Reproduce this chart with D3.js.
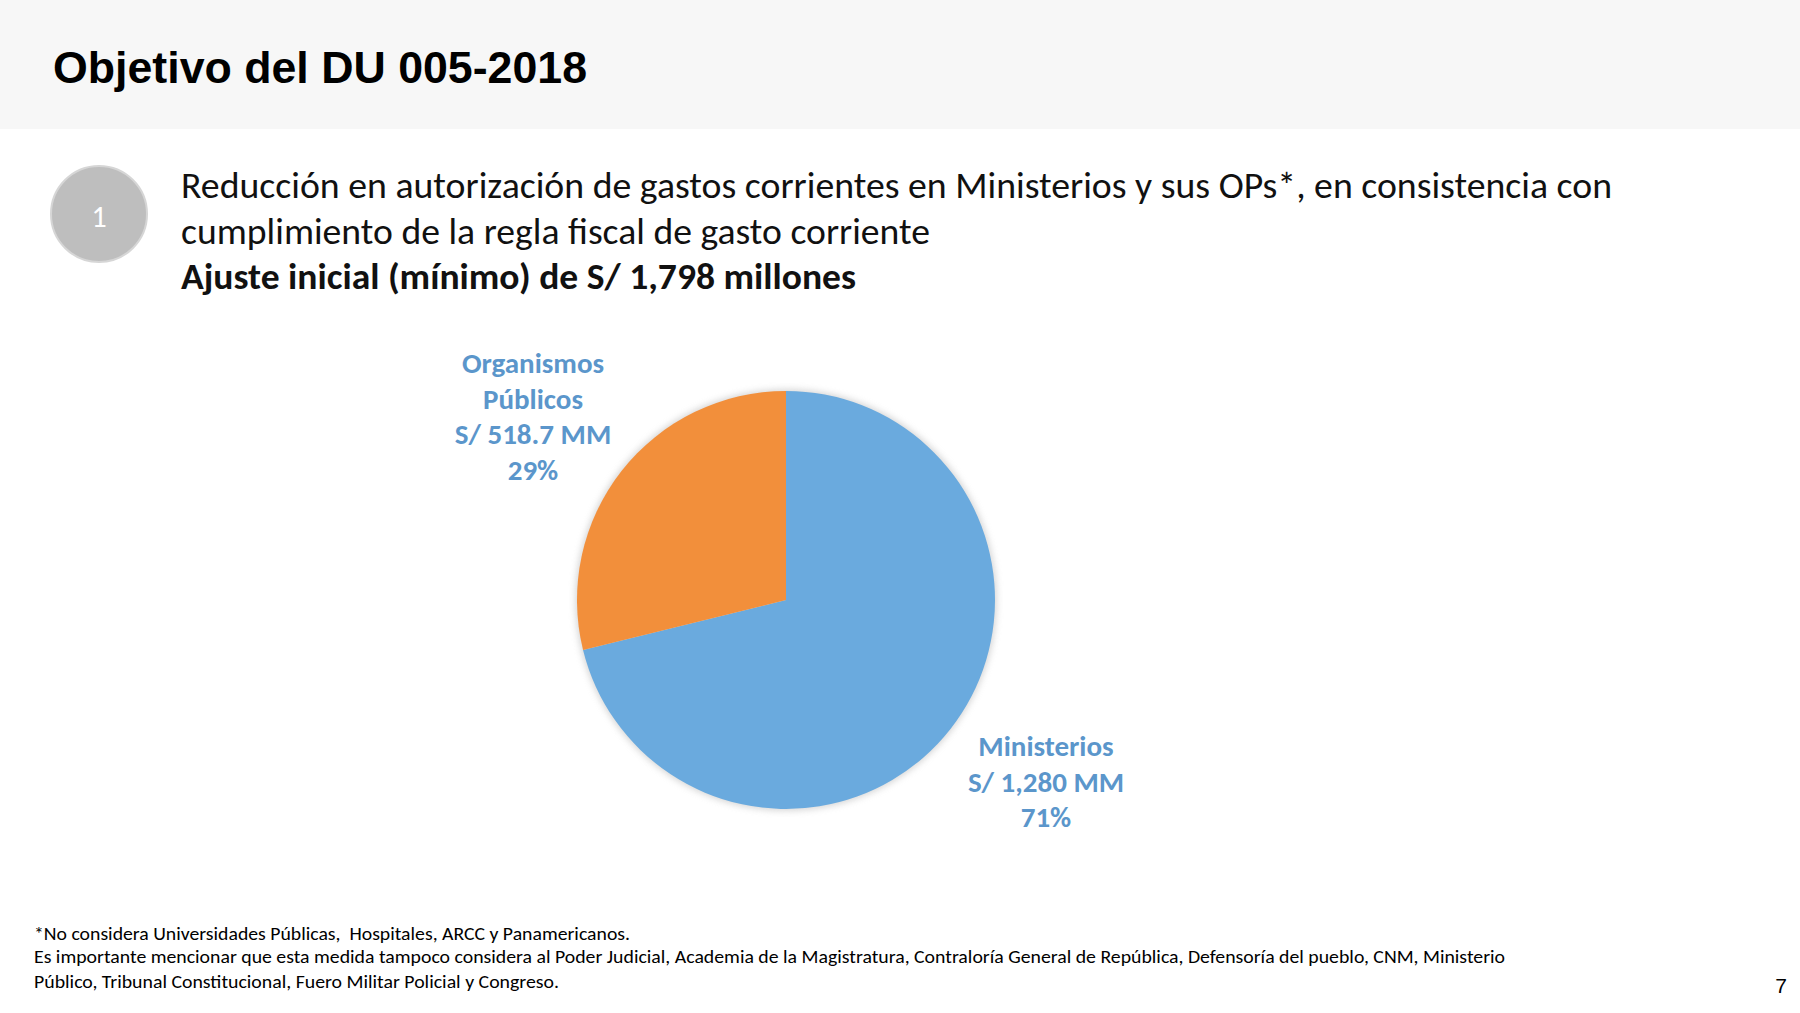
<!DOCTYPE html>
<html>
<head>
<meta charset="utf-8">
<script src="https://cdn.jsdelivr.net/npm/d3@7"></script>
<style>
  html, body { margin: 0; padding: 0; background: #ffffff; }
  svg { display: block; }
  text.pre { white-space: pre; }
</style>
</head>
<body>
<svg id="chart" width="1800" height="1013"></svg>
<script>
// ---- Data ----
const categories = ["Ministerios", "Organismos Públicos"];
const values = [1280, 518.7];
const amountLabels = ["S/ 1,280 MM", "S/ 518.7 MM"];
const pctLabels = ["71%", "29%"];
const nameLines = [["Ministerios"], ["Organismos", "Públicos"]];
const colors = ["#6AAADE", "#F28F3B"];

const titleText = "Objetivo del DU 005-2018";
const bodyLines = [
  "Reducción en autorización de gastos corrientes en Ministerios y sus OPs*, en consistencia con",
  "cumplimiento de la regla fiscal de gasto corriente",
  "Ajuste inicial (mínimo) de S/ 1,798 millones"
];
const footLines = [
  "*No considera Universidades Públicas,  Hospitales, ARCC y Panamericanos.",
  "Es importante mencionar que esta medida tampoco considera al Poder Judicial, Academia de la Magistratura, Contraloría General de República, Defensoría del pueblo, CNM, Ministerio",
  "Público, Tribunal Constitucional, Fuero Militar Policial y Congreso."
];
const pageNumber = "7";

// ---- Layout ----
const svg = d3.select("#chart");
const bodyFont = "Carlito, Calibri, Lato, 'Open Sans', sans-serif";

// header band
svg.append("rect").attr("x", 0).attr("y", 0).attr("width", 1800).attr("height", 129).attr("fill", "#F7F7F7");
svg.append("text")
  .attr("x", 53).attr("y", 83)
  .attr("font-family", "'Liberation Sans', Arial, sans-serif")
  .attr("font-weight", "bold").attr("font-size", 45)
  .attr("fill", "#000")
  .attr("textLength", 534)
  .attr("lengthAdjust", "spacingAndGlyphs")
  .text(titleText);

// badge
svg.append("circle").attr("cx", 99).attr("cy", 214).attr("r", 48)
  .attr("fill", "#BEBEBE").attr("stroke", "#D6D6D6").attr("stroke-width", 2);
svg.append("text").attr("x", 99).attr("y", 227)
  .attr("text-anchor", "middle")
  .attr("font-family", bodyFont).attr("font-size", 30)
  .attr("fill", "#fff").text("1");

// body text
const bodyBase = [198, 244, 289];
const bodyWidths = [1431, 749, 675];
bodyLines.forEach((t, i) => {
  svg.append("text")
    .attr("x", 181).attr("y", bodyBase[i])
    .attr("font-family", bodyFont)
    .attr("font-size", 37)
    .attr("font-weight", i === 2 ? "bold" : "normal")
    .attr("fill", "#111")
    .attr("textLength", bodyWidths[i])
    .attr("lengthAdjust", "spacingAndGlyphs")
    .text(t);
});

// pie
const cx = 786, cy = 600, R = 209;
const defs = svg.append("defs");
const f = defs.append("filter").attr("id", "glow").attr("x", "-20%").attr("y", "-20%").attr("width", "140%").attr("height", "140%");
f.append("feGaussianBlur").attr("stdDeviation", 3);

const pie = d3.pie().sort(null).value(d => d)(values);
const arc = d3.arc().innerRadius(0).outerRadius(R);
const g = svg.append("g").attr("transform", `translate(${cx},${cy})`);
g.append("circle").attr("r", R + 2).attr("fill", "#C8C8C8").attr("opacity", 0.7).attr("filter", "url(#glow)");
g.selectAll("path.slice").data(pie).enter().append("path")
  .attr("class", "slice")
  .attr("d", arc)
  .attr("fill", (d, i) => colors[i]);

// labels
const labelColor = "#5B96CB";
const labelAnchors = [
  { x: 1046, y: 756 },   // Ministerios first baseline
  { x: 533, y: 373 }     // Organismos first baseline
];
const lh = 35.5;
pie.forEach((d, i) => {
  const lines = nameLines[i].concat([amountLabels[i], pctLabels[i]]);
  const t = svg.append("text")
    .attr("text-anchor", "middle")
    .attr("font-family", bodyFont)
    .attr("font-weight", "bold")
    .attr("font-size", 29)
    .attr("fill", labelColor);
  lines.forEach((ln, j) => {
    t.append("tspan").attr("x", labelAnchors[i].x).attr("y", labelAnchors[i].y + j * lh).text(ln);
  });
});

// footnotes
const footBase = [940, 963, 988];
const footWidths = [596, 1471, 525];
footLines.forEach((t, i) => {
  svg.append("text")
    .attr("class", "pre")
    .attr("x", 34).attr("y", footBase[i])
    .attr("font-family", bodyFont)
    .attr("font-size", 18)
    .attr("fill", "#000")
    .attr("textLength", footWidths[i])
    .attr("lengthAdjust", "spacingAndGlyphs")
    .text(t);
});

svg.append("text").attr("x", 1787).attr("y", 993)
  .attr("text-anchor", "end")
  .attr("font-family", "'Liberation Sans', Arial, sans-serif")
  .attr("font-size", 21).attr("fill", "#000").text(pageNumber);
</script>
</body>
</html>
